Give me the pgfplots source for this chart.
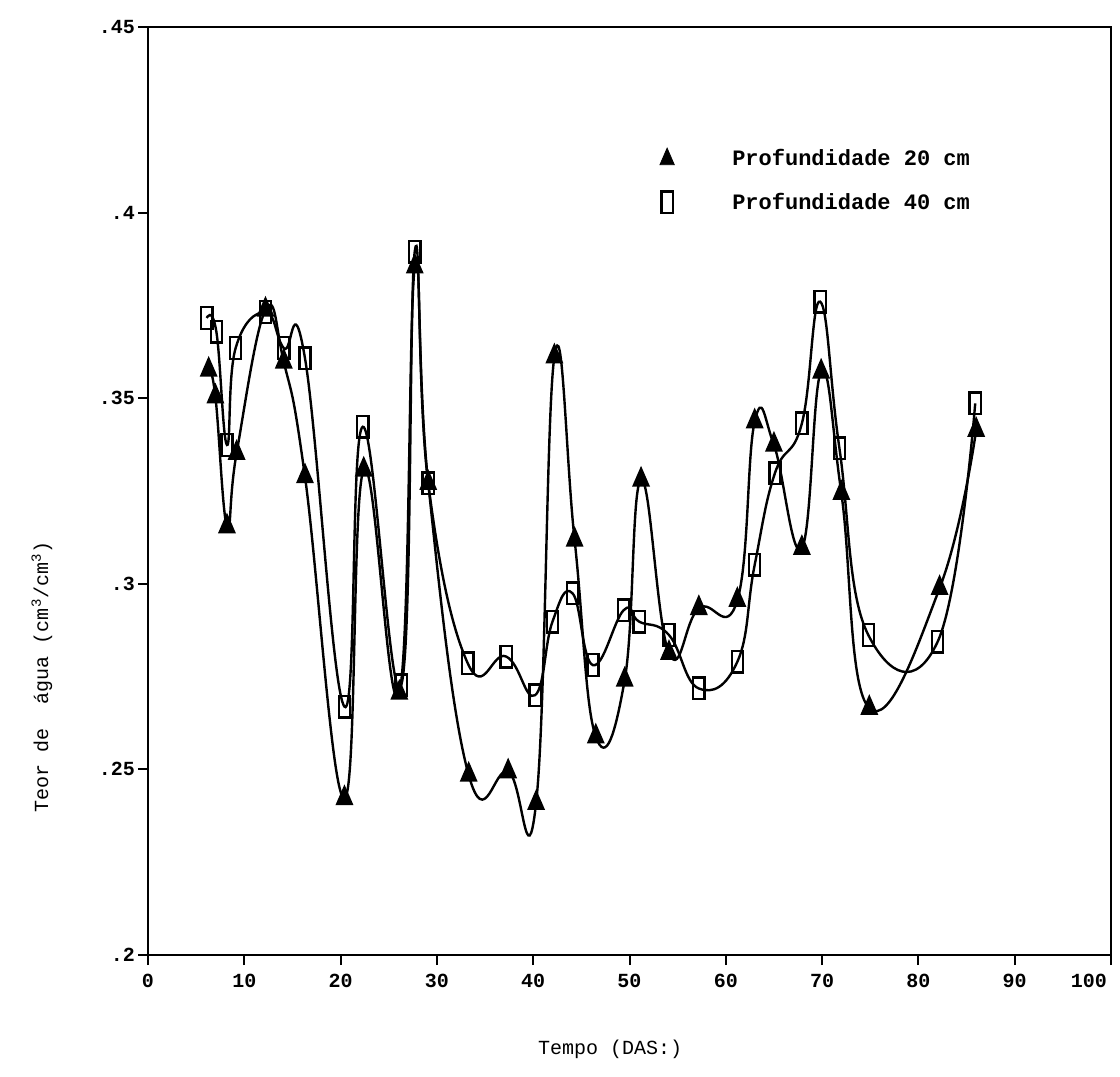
\documentclass[border=0pt]{standalone}
\usepackage{fontspec}
\setmainfont{Liberation Mono}
\usepackage{pgfplots}
\pgfplotsset{compat=1.18}

\begin{document}
\begin{tikzpicture}
\begin{axis}[
  scale only axis,
  width=481.5pt, height=464pt,
  xmin=0, xmax=100, ymin=0.2, ymax=0.45,
  xtick={0,10,...,100},
  xticklabels={0,10,20,30,40,50,60,70,80,90,\llap{100\hspace{2pt}}},
  ytick={0.2,0.25,0.3,0.35,0.4,0.45},
  yticklabels={.2,.25,.3,.35,.4,.45},
  tick pos=left, tick align=outside,
  major tick length=5pt,
  tick style={line width=1pt, black},
  axis line style={line width=1.3pt},
  tick label style={font=\fontsize{10}{12}\selectfont\bfseries},
  xticklabel style={yshift=-1pt},
  yticklabel style={xshift=2pt},
  label style={font=\fontsize{13}{15}\selectfont},
  xlabel={Tempo (DAS:)},
  ylabel={Teor de\ \ água (cm\textsuperscript{3}/cm\textsuperscript{3})},
  every axis x label/.style={at={([yshift=-47pt]rel axis cs:0.48,0)}, anchor=center},
  every axis y label/.style={at={([xshift=-53pt]rel axis cs:0,0.3)}, rotate=90, anchor=center},
  clip=false,
  legend style={at={(rel axis cs:0.525,0.877)}, anchor=north west, draw=none, fill=none,
    font=\fontsize{11}{13}\selectfont\bfseries, row sep=8pt, column sep=27pt},
  legend cell align=left,
]
% profundidade 20 cm
\addplot[black, line width=1.2pt, smooth, tension=0.75, mark=triangle*,
  mark size=5.5pt, mark options={xscale=0.75, solid, fill=black}, forget plot]
 coordinates {
 (6.3,0.3576) (7.0,0.3504) (8.2,0.3154) (9.2,0.3352) (12.2,0.3738)
 (14.1,0.3598) (16.3,0.3289) (20.4,0.2422) (22.4,0.3307) (26.1,0.2706)
 (27.7,0.3854) (29.1,0.3271) (33.3,0.2485) (37.4,0.2494) (40.3,0.2409)
 (42.2,0.3612) (44.3,0.3118) (46.5,0.2588) (49.5,0.2741) (51.2,0.3280)
 (54.1,0.2813) (57.2,0.2934) (61.2,0.2956) (63.0,0.3437) (65.0,0.3374)
 (67.9,0.3096) (69.9,0.3571) (72.0,0.3244) (74.9,0.2665) (82.2,0.2988)
 (86.0,0.3414)};
% profundidade 40 cm
\addplot[black, line width=1.2pt, smooth, tension=0.75, mark=square,
  mark size=4pt, mark options={xscale=0.7, yscale=1.35, solid, fill=white, line width=1.2pt}, forget plot]
 coordinates {
 (6.1,0.3716) (7.1,0.3679) (8.2,0.3374) (9.1,0.3635) (12.2,0.3732)
 (14.1,0.3635) (16.3,0.3608) (20.4,0.2669) (22.3,0.3423) (26.3,0.2727)
 (27.7,0.3895) (29.1,0.3271) (33.2,0.2786) (37.2,0.2804) (40.2,0.2700)
 (42.0,0.2898) (44.1,0.2974) (46.2,0.2781) (49.4,0.2929) (51.0,0.2898)
 (54.1,0.2862) (57.2,0.2718) (61.2,0.2790) (63.0,0.3051) (65.1,0.3298)
 (67.9,0.3432) (69.8,0.3760) (71.8,0.3365) (74.8,0.2862) (82.0,0.2844)
 (85.9,0.3486)};
\addlegendimage{only marks, mark=triangle*, mark size=5.5pt, mark options={xscale=0.75, fill=black}}
\addlegendentry{Profundidade 20 cm}
\addlegendimage{only marks, mark=square, mark size=4pt, mark options={xscale=0.7, yscale=1.35, line width=1.2pt}}
\addlegendentry{Profundidade 40 cm}
\end{axis}
\path (-74pt,-61pt) rectangle (486pt,477.5pt);
\end{tikzpicture}
\end{document}
